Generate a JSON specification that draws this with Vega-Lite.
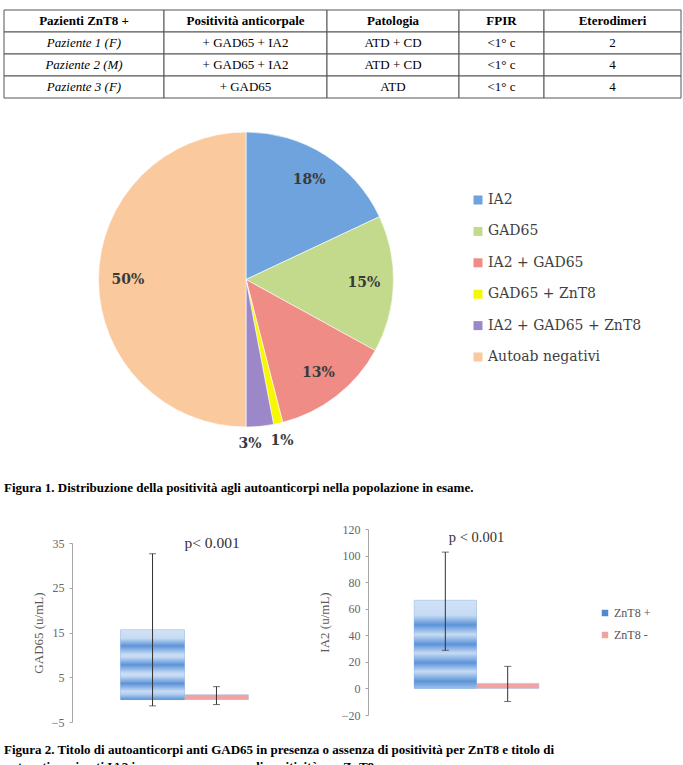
{
  "$schema": "https://vega.github.io/schema/vega-lite/v6.json",
  "padding": {"left": 3, "top": 9, "right": 0, "bottom": 0},
  "spacing": 31,
  "config": {"view": {"stroke": null}, "font": "Liberation Serif"},
  "datasets": {
    "tab": [
      {"r": 0, "c1": "Pazienti ZnT8 +", "c2": "Positività anticorpale", "c3": "Patologia", "c4": "FPIR", "c5": "Eterodimeri"},
      {"r": 1, "c1": "Paziente 1 (F)", "c2": "+ GAD65 + IA2", "c3": "ATD + CD", "c4": "<1° c", "c5": "2"},
      {"r": 2, "c1": "Paziente 2 (M)", "c2": "+ GAD65 + IA2", "c3": "ATD + CD", "c4": "<1° c", "c5": "4"},
      {"r": 3, "c1": "Paziente 3 (F)", "c2": "+ GAD65", "c3": "ATD", "c4": "<1° c", "c5": "4"}
    ],
    "pie": [
      {"cat": "IA2", "v": 0.18, "k": 1},
      {"cat": "GAD65", "v": 0.15, "k": 2},
      {"cat": "IA2 + GAD65", "v": 0.13, "k": 3},
      {"cat": "GAD65 + ZnT8", "v": 0.01, "k": 4},
      {"cat": "IA2 + GAD65 + ZnT8", "v": 0.03, "k": 5},
      {"cat": "Autoab negativi", "v": 0.50, "k": 6}
    ],
    "gad": [
      {"grp": "ZnT8 +", "mean": 15.6, "lo": -1.4, "hi": 32.6},
      {"grp": "ZnT8 -", "mean": 1.1, "lo": -1.1, "hi": 2.9}
    ],
    "ia2": [
      {"grp": "ZnT8 +", "mean": 66.4, "lo": 28.7, "hi": 102.6},
      {"grp": "ZnT8 -", "mean": 3.8, "lo": -9.8, "hi": 16.6}
    ]
  },
  "vconcat": [
    {
      "spacing": 0,
      "bounds": "flush",
      "hconcat": [
        {
          "width": 160, "height": 88, "data": {"name": "tab"},
          "encoding": {"y": {"field": "r", "type": "ordinal", "axis": null, "scale": {"paddingInner": 0, "paddingOuter": 0}}},
          "layer": [
            {"mark": {"type": "rect", "fill": "#ffffff", "stroke": "#555555", "strokeWidth": 1}},
            {"transform": [{"filter": "datum.r == 0"}], "mark": {"type": "text", "fontWeight": "bold", "fontSize": 13, "font": "Liberation Serif", "color": "#000"}, "encoding": {"text": {"field": "c1"}}},
            {"transform": [{"filter": "datum.r > 0"}], "mark": {"type": "text", "fontStyle": "italic", "fontSize": 13, "font": "Liberation Serif", "color": "#000"}, "encoding": {"text": {"field": "c1"}}}
          ]
        },
        {
          "width": 163, "height": 88, "data": {"name": "tab"},
          "encoding": {"y": {"field": "r", "type": "ordinal", "axis": null, "scale": {"paddingInner": 0, "paddingOuter": 0}}},
          "layer": [
            {"mark": {"type": "rect", "fill": "#ffffff", "stroke": "#555555", "strokeWidth": 1}},
            {"transform": [{"filter": "datum.r == 0"}], "mark": {"type": "text", "fontWeight": "bold", "fontSize": 13, "font": "Liberation Serif", "color": "#000"}, "encoding": {"text": {"field": "c2"}}},
            {"transform": [{"filter": "datum.r > 0"}], "mark": {"type": "text", "fontSize": 13, "font": "Liberation Serif", "color": "#000"}, "encoding": {"text": {"field": "c2"}}}
          ]
        },
        {
          "width": 132, "height": 88, "data": {"name": "tab"},
          "encoding": {"y": {"field": "r", "type": "ordinal", "axis": null, "scale": {"paddingInner": 0, "paddingOuter": 0}}},
          "layer": [
            {"mark": {"type": "rect", "fill": "#ffffff", "stroke": "#555555", "strokeWidth": 1}},
            {"transform": [{"filter": "datum.r == 0"}], "mark": {"type": "text", "fontWeight": "bold", "fontSize": 13, "font": "Liberation Serif", "color": "#000"}, "encoding": {"text": {"field": "c3"}}},
            {"transform": [{"filter": "datum.r > 0"}], "mark": {"type": "text", "fontSize": 13, "font": "Liberation Serif", "color": "#000"}, "encoding": {"text": {"field": "c3"}}}
          ]
        },
        {
          "width": 85, "height": 88, "data": {"name": "tab"},
          "encoding": {"y": {"field": "r", "type": "ordinal", "axis": null, "scale": {"paddingInner": 0, "paddingOuter": 0}}},
          "layer": [
            {"mark": {"type": "rect", "fill": "#ffffff", "stroke": "#555555", "strokeWidth": 1}},
            {"transform": [{"filter": "datum.r == 0"}], "mark": {"type": "text", "fontWeight": "bold", "fontSize": 13, "font": "Liberation Serif", "color": "#000"}, "encoding": {"text": {"field": "c4"}}},
            {"transform": [{"filter": "datum.r > 0"}], "mark": {"type": "text", "fontSize": 13, "font": "Liberation Serif", "color": "#000"}, "encoding": {"text": {"field": "c4"}}}
          ]
        },
        {
          "width": 137, "height": 88, "data": {"name": "tab"},
          "encoding": {"y": {"field": "r", "type": "ordinal", "axis": null, "scale": {"paddingInner": 0, "paddingOuter": 0}}},
          "layer": [
            {"mark": {"type": "rect", "fill": "#ffffff", "stroke": "#555555", "strokeWidth": 1}},
            {"transform": [{"filter": "datum.r == 0"}], "mark": {"type": "text", "fontWeight": "bold", "fontSize": 13, "font": "Liberation Serif", "color": "#000"}, "encoding": {"text": {"field": "c5"}}},
            {"transform": [{"filter": "datum.r > 0"}], "mark": {"type": "text", "fontSize": 13, "font": "Liberation Serif", "color": "#000"}, "encoding": {"text": {"field": "c5"}}}
          ]
        }
      ]
    },
    {
      "width": 484, "height": 295,
      "data": {"name": "pie"},
      "encoding": {
        "theta": {"field": "v", "type": "quantitative", "stack": true},
        "order": {"field": "k", "type": "quantitative"}
      },
      "layer": [
        {
          "mark": {"type": "arc", "outerRadius": 147.5, "stroke": "#ffffff", "strokeWidth": 0.6},
          "encoding": {
            "color": {
              "field": "cat", "type": "nominal",
              "scale": {
                "domain": ["IA2", "GAD65", "IA2 + GAD65", "GAD65 + ZnT8", "IA2 + GAD65 + ZnT8", "Autoab negativi"],
                "range": ["#6ea3de", "#c3da8c", "#ef8c86", "#f7f700", "#9c88c8", "#fbc99e"]
              },
              "legend": {
                "orient": "none", "legendX": 467, "legendY": 183, "title": null,
                "symbolType": "square", "symbolSize": 81, "symbolStrokeWidth": 0,
                "labelFont": "DejaVu Serif", "labelFontSize": 14, "labelColor": "#404040",
                "rowPadding": 17.4, "labelOffset": 3
              }
            }
          }
        },
        {
          "mark": {"type": "text", "radius": 118, "font": "DejaVu Serif", "fontSize": 14, "fontWeight": "bold", "color": "#3a3a3a"},
          "encoding": {
            "text": {"condition": {"test": "datum.v >= 0.05", "field": "v", "type": "quantitative", "format": ".0%"}, "value": ""},
            "detail": {"field": "cat"}
          }
        },
        {
          "mark": {"type": "text", "radius": 165, "font": "DejaVu Serif", "fontSize": 14, "fontWeight": "bold", "color": "#3a3a3a", "align": {"expr": "datum.k == 5 ? 'right' : 'center'"}},
          "encoding": {
            "text": {"condition": {"test": "datum.v < 0.05", "field": "v", "type": "quantitative", "format": ".0%"}, "value": ""},
            "detail": {"field": "cat"}
          }
        }
      ]
    },
    {
      "title": {
        "text": "Figura 1. Distribuzione della positività agli autoanticorpi nella popolazione in esame.",
        "orient": "top", "anchor": "start", "font": "Liberation Serif", "fontSize": 13, "fontWeight": "bold", "color": "#000", "offset": 28
      },
      "vconcat": [
        {
          "title": {
            "text": ["Figura 2. Titolo di autoanticorpi anti GAD65 in presenza o assenza di positività per ZnT8 e titolo di", "autoanticorpi anti IA2 in presenza o assenza di positività per ZnT8."],
            "orient": "bottom", "anchor": "start", "font": "Liberation Serif", "fontSize": 13, "fontWeight": "bold", "color": "#000", "offset": 16, "lineHeight": 17
          },
          "spacing": 21,
          "align": "none",
          "resolve": {"scale": {"color": "independent", "x": "independent", "y": "independent"}},
          "hconcat": [
            {
              "width": 7, "height": 10,
              "data": {"values": [{}]},
              "mark": {"type": "text", "text": ""}
            },
            {
              "spacing": 0,
              "vconcat": [
                {
                  "width": 10, "height": 2,
                  "data": {"values": [{}]},
                  "mark": {"type": "text", "text": ""}
                },
                {
                  "width": 225, "height": 179,
                  "data": {"name": "gad"},
                  "encoding": {"x": {"field": "grp", "type": "nominal", "axis": null, "scale": {"domain": ["ZnT8 +", "ZnT8 -"], "paddingInner": 0, "paddingOuter": 0.76}}},
                  "layer": [
                    {
                      "mark": {"type": "bar", "stroke": "#9dbde6", "strokeWidth": 0.5},
                      "encoding": {
                        "y": {"field": "mean", "type": "quantitative", "scale": {"domain": [-5, 35], "nice": false},
                          "axis": {"values": [-5, 5, 15, 25, 35], "tickCount": 5, "title": "GAD65 (u/mL)", "grid": false, "domainColor": "#a6a6a6", "tickColor": "#a6a6a6", "tickSize": 3, "labelOverlap": false,
                            "labelFont": "Liberation Serif", "labelFontSize": 12, "labelColor": "#666666", "labelPadding": 5,
                            "titleFont": "Liberation Serif", "titleFontSize": 13, "titleFontWeight": "normal", "titleColor": "#595959", "titlePadding": 6}},
                        "color": {"field": "grp", "type": "nominal", "scale": {"domain": ["ZnT8 +", "ZnT8 -"], "range": ["#4f8ad0", "#f2a3a1"]}, "legend": null}
                      }
                    },
                    {
                      "transform": [{"filter": "datum.grp == 'ZnT8 +'"}],
                      "mark": {"type": "bar", "fill": {"gradient": "linear", "x1": 0, "y1": 0, "x2": 0, "y2": 1, "stops": [
                        {"offset": 0, "color": "#cfe1f6"}, {"offset": 0.12, "color": "#c6dbf4"}, {"offset": 0.23, "color": "#5c93d9"}, {"offset": 0.35, "color": "#c6dbf4"},
                        {"offset": 0.39, "color": "#c6dbf4"}, {"offset": 0.5, "color": "#5c93d9"}, {"offset": 0.62, "color": "#c6dbf4"}, {"offset": 0.66, "color": "#c6dbf4"},
                        {"offset": 0.77, "color": "#5c93d9"}, {"offset": 0.88, "color": "#c6dbf4"}, {"offset": 0.92, "color": "#b5d0f0"}, {"offset": 1, "color": "#5c93d9"}]}},
                      "encoding": {"y": {"field": "mean", "type": "quantitative"}}
                    },
                    {
                      "mark": {"type": "rule", "color": "#333333", "strokeWidth": 1},
                      "encoding": {"y": {"field": "lo", "type": "quantitative"}, "y2": {"field": "hi"}}
                    },
                    {
                      "mark": {"type": "tick", "color": "#333333", "size": 7, "thickness": 1, "orient": "horizontal"},
                      "encoding": {"y": {"field": "lo", "type": "quantitative"}}
                    },
                    {
                      "mark": {"type": "tick", "color": "#333333", "size": 7, "thickness": 1, "orient": "horizontal"},
                      "encoding": {"y": {"field": "hi", "type": "quantitative"}}
                    },
                    {
                      "mark": {"type": "rule", "color": "#a6a6a6", "strokeWidth": 1},
                      "encoding": {"y": {"datum": 0}}
                    },
                    {
                      "data": {"values": [{}]},
                      "mark": {"type": "text", "text": "p< 0.001", "align": "left", "baseline": "middle", "font": "Liberation Serif", "fontSize": 15.5, "color": "#333333"},
                      "encoding": {"x": {"datum": "ZnT8 +", "bandPosition": 1}, "y": {"datum": 35.1}}
                    }
                  ]
                }
              ]
            },
            {
              "width": 217, "height": 186,
              "data": {"name": "ia2"},
              "encoding": {"x": {"field": "grp", "type": "nominal", "axis": null, "scale": {"domain": ["ZnT8 +", "ZnT8 -"], "paddingInner": 0, "paddingOuter": 0.74}}},
              "layer": [
                {
                  "mark": {"type": "bar", "stroke": "#9dbde6", "strokeWidth": 0.5},
                  "encoding": {
                    "y": {"field": "mean", "type": "quantitative", "scale": {"domain": [-20, 120], "nice": false},
                      "axis": {"values": [-20, 0, 20, 40, 60, 80, 100, 120], "tickCount": 8, "title": "IA2 (u/mL)", "grid": false, "domainColor": "#a6a6a6", "tickColor": "#a6a6a6", "tickSize": 3, "labelOverlap": false,
                        "labelFont": "Liberation Serif", "labelFontSize": 12, "labelColor": "#666666", "labelPadding": 5,
                        "titleFont": "Liberation Serif", "titleFontSize": 13, "titleFontWeight": "normal", "titleColor": "#595959", "titlePadding": 10}},
                    "color": {"field": "grp", "type": "nominal", "scale": {"domain": ["ZnT8 +", "ZnT8 -"], "range": ["#4f8ad0", "#f2a3a1"]},
                      "legend": {"orient": "none", "legendX": 231, "legendY": 78, "title": null, "symbolType": "square", "symbolSize": 42, "symbolStrokeWidth": 0,
                        "labelFont": "Liberation Serif", "labelFontSize": 12, "labelColor": "#555555", "rowPadding": 10, "labelOffset": 3}}
                  }
                },
                {
                  "transform": [{"filter": "datum.grp == 'ZnT8 +'"}],
                  "mark": {"type": "bar", "fill": {"gradient": "linear", "x1": 0, "y1": 0, "x2": 0, "y2": 1, "stops": [
                    {"offset": 0, "color": "#cfe1f6"}, {"offset": 0.17, "color": "#c6dbf4"}, {"offset": 0.28, "color": "#5c93d9"}, {"offset": 0.39, "color": "#c6dbf4"},
                    {"offset": 0.5, "color": "#5c93d9"}, {"offset": 0.6, "color": "#c6dbf4"}, {"offset": 0.71, "color": "#5c93d9"}, {"offset": 0.81, "color": "#c6dbf4"},
                    {"offset": 0.92, "color": "#5c93d9"}, {"offset": 1, "color": "#9fc0ea"}]}},
                  "encoding": {"y": {"field": "mean", "type": "quantitative"}}
                },
                {
                  "mark": {"type": "rule", "color": "#333333", "strokeWidth": 1},
                  "encoding": {"y": {"field": "lo", "type": "quantitative"}, "y2": {"field": "hi"}}
                },
                {
                  "mark": {"type": "tick", "color": "#333333", "size": 7, "thickness": 1, "orient": "horizontal"},
                  "encoding": {"y": {"field": "lo", "type": "quantitative"}}
                },
                {
                  "mark": {"type": "tick", "color": "#333333", "size": 7, "thickness": 1, "orient": "horizontal"},
                  "encoding": {"y": {"field": "hi", "type": "quantitative"}}
                },
                {
                  "mark": {"type": "rule", "color": "#a6a6a6", "strokeWidth": 1},
                  "encoding": {"y": {"datum": 0}}
                },
                {
                  "data": {"values": [{}]},
                  "mark": {"type": "text", "text": "p < 0.001", "align": "center", "baseline": "middle", "font": "Liberation Serif", "fontSize": 14.5, "color": "#333333"},
                  "encoding": {"x": {"datum": "ZnT8 +", "bandPosition": 1}, "y": {"datum": 113.2}}
                }
              ]
            }
          ]
        }
      ]
    }
  ]
}
